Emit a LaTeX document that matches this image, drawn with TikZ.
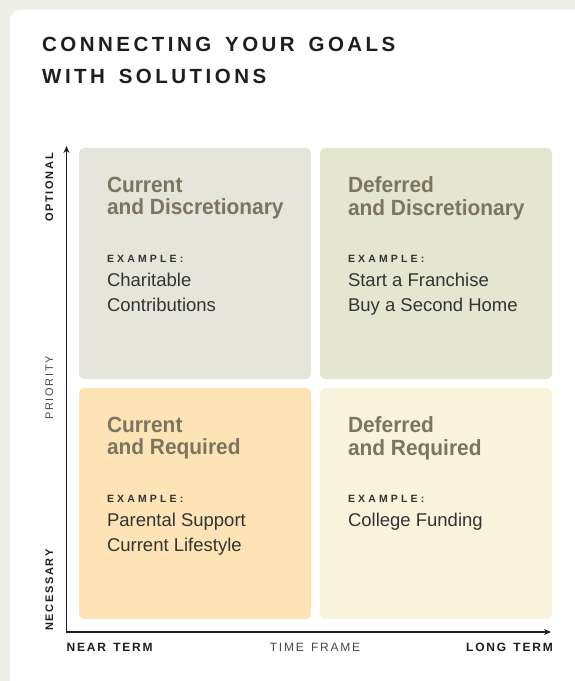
\documentclass[tikz,border=0pt]{standalone}
\usepackage{fontspec}
\setmainfont{Liberation Sans}
\newfontfamily\titlefont[LetterSpace=17, WordSpace=1.5]{Liberation Sans}
\newfontfamily\axisfont[LetterSpace=15, WordSpace=1.4]{Liberation Sans}
\newfontfamily\examplefont[LetterSpace=30]{Liberation Sans}
\newfontfamily\headfont[FakeStretch=0.95]{Liberation Sans}
\usepackage{tikz}
\usetikzlibrary{arrows.meta, positioning, calc}
\definecolor{pageGrey}{HTML}{ECEEE7}
\definecolor{headOlive}{HTML}{7B7560}
\definecolor{bodyBlack}{HTML}{333333}
\definecolor{mainBlack}{HTML}{1E1E1E}
\definecolor{curDiscFill}{HTML}{E6E5DC}
\definecolor{defDiscFill}{HTML}{E4E6D0}
\definecolor{curReqFill}{HTML}{FDE3B5}
\definecolor{defReqFill}{HTML}{FAF3DB}

\tikzset{
  quad/.style={rectangle, rounded corners=5pt, inner sep=0pt, minimum width=232pt, minimum height=231pt},
  quadhead/.style={inner sep=0pt, align=left, text=headOlive, font=\headfont\fontsize{22}{22.5}\selectfont\bfseries},
  quadlabel/.style={anchor=base west, inner sep=0pt, text=bodyBlack, font=\examplefont\fontsize{10.5}{12}\selectfont\bfseries},
  quaditems/.style={inner sep=0pt, align=left, text=bodyBlack, font=\fontsize{18.5}{25}\selectfont},
  axislabel/.style={inner sep=0pt, text=mainBlack, font=\axisfont\fontsize{12}{14}\selectfont\bfseries},
  axisname/.style={inner sep=0pt, text=bodyBlack!90, font=\axisfont\fontsize{12}{14}\selectfont},
  sidelabel/.style={inner sep=0pt, rotate=90, text=mainBlack, font=\axisfont\fontsize{11}{13}\selectfont\bfseries},
}

\begin{document}
\begin{tikzpicture}[x=1pt, y=1pt, >={Stealth[length=7pt, width=6pt]}]
    \path[use as bounding box, fill=pageGrey] (0,0) rectangle (575,681);
    \fill[white] (10,0) -- (10,661) arc[start angle=180, end angle=90, radius=10] -- (575,671) -- (575,0) -- cycle;

    \node[anchor=north west, inner sep=0pt, align=left, text=mainBlack, font=\titlefont\fontsize{20.5}{32.3}\selectfont\bfseries] (title) at (42,644.5) {CONNECTING YOUR GOALS\\WITH SOLUTIONS};

    \node[quad, fill=curDiscFill] (curdisc) at (195,417.5) {};
    \node[quad, fill=defDiscFill] (defdisc) at (436,417.5) {};
    \node[quad, fill=curReqFill] (curreq) at (195,177.5) {};
    \node[quad, fill=defReqFill] (defreq) at (436,177.5) {};

    \node[quadhead, below right=28.8pt and 28pt of curdisc.north west] (curdisc-head) {Current\\and Discretionary};
    \node[quadlabel] (curdisc-label) at ([shift={(28,-115)}]curdisc.north west) {EXAMPLE:};
    \node[quaditems, below right=125.5pt and 28pt of curdisc.north west] (curdisc-items) {Charitable\\Contributions};

    \node[quadhead, below right=28.8pt and 28pt of defdisc.north west] (defdisc-head) {Deferred\\and Discretionary};
    \node[quadlabel] (defdisc-label) at ([shift={(28,-115)}]defdisc.north west) {EXAMPLE:};
    \node[quaditems, below right=125.5pt and 28pt of defdisc.north west] (defdisc-items) {Start a Franchise\\Buy a Second Home};

    \node[quadhead, below right=28.8pt and 28pt of curreq.north west] (curreq-head) {Current\\and Required};
    \node[quadlabel] (curreq-label) at ([shift={(28,-115)}]curreq.north west) {EXAMPLE:};
    \node[quaditems, below right=125.5pt and 28pt of curreq.north west] (curreq-items) {Parental Support\\Current Lifestyle};

    \node[quadhead, below right=28.8pt and 28pt of defreq.north west] (defreq-head) {Deferred\\and Required};
    \node[quadlabel] (defreq-label) at ([shift={(28,-115)}]defreq.north west) {EXAMPLE:};
    \node[quaditems, below right=125.5pt and 28pt of defreq.north west] (defreq-items) {College Funding};

    \coordinate (origin) at (66.5,49);
    \coordinate (ytip) at (66.5,535);
    \coordinate (xtip) at (551,49);
    \draw[<->, mainBlack, line width=1.1pt] (ytip) |- (xtip);

    \node[sidelabel, anchor=base east] (optional) at (53,528) {OPTIONAL};
    \node[sidelabel, text=bodyBlack!90, font=\axisfont\fontsize{11}{13}\selectfont, anchor=base] (priority) at (53,293) {PRIORITY};
    \node[sidelabel, anchor=base west] (necessary) at (53,50) {NECESSARY};

    \node[axislabel, anchor=base west] (near) at (66.5,29) {NEAR TERM};
    \node[axisname, anchor=base] (timeframe) at (315,29) {TIME FRAME};
    \node[axislabel, anchor=base east] (long) at (553,29) {LONG TERM};
\end{tikzpicture}
\end{document}
